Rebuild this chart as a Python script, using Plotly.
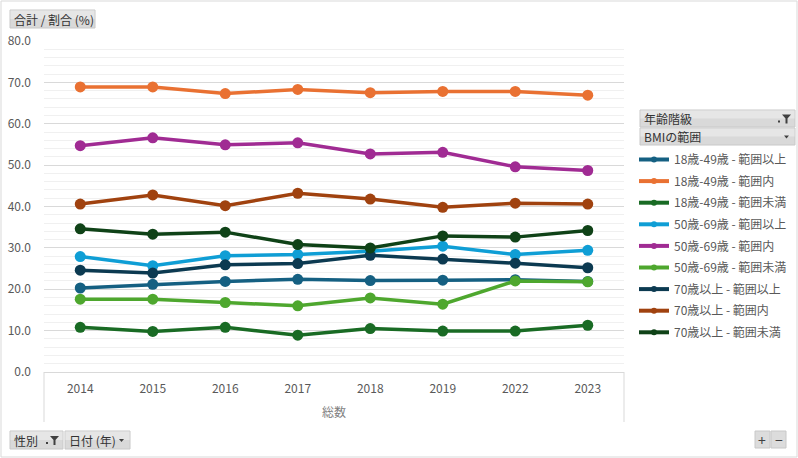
import plotly.graph_objects as go

years = ["2014", "2015", "2016", "2017", "2018", "2019", "2022", "2023"]

series_names = [
    "18歳-49歳 - 範囲以上",
    "18歳-49歳 - 範囲内",
    "18歳-49歳 - 範囲未満",
    "50歳-69歳 - 範囲以上",
    "50歳-69歳 - 範囲内",
    "50歳-69歳 - 範囲未満",
    "70歳以上 - 範囲以上",
    "70歳以上 - 範囲内",
    "70歳以上 - 範囲未満",
]

age18_above = [20.3, 21.2, 21.9, 22.4, 22.1, 22.2, 22.3, 21.9]
age18_within = [68.9, 68.9, 67.3, 68.3, 67.5, 67.8, 67.8, 66.9]
age18_below = [10.8, 9.8, 10.8, 8.9, 10.5, 9.9, 9.9, 11.3]
age50_above = [27.9, 25.7, 28.1, 28.4, 29.2, 30.4, 28.4, 29.4]
age50_within = [54.7, 56.6, 54.9, 55.4, 52.7, 53.1, 49.6, 48.7]
age50_below = [17.6, 17.6, 16.8, 16.0, 17.9, 16.4, 22.0, 21.8]
age70_above = [24.6, 23.9, 25.9, 26.2, 28.2, 27.3, 26.3, 25.2]
age70_within = [40.6, 42.8, 40.2, 43.2, 41.8, 39.8, 40.8, 40.6]
age70_below = [34.6, 33.3, 33.8, 30.8, 30.0, 32.9, 32.6, 34.2]

values = [age18_above, age18_within, age18_below,
          age50_above, age50_within, age50_below,
          age70_above, age70_within, age70_below]

colors = ["#156082", "#E97132", "#196B24", "#0F9ED5", "#A02B93",
          "#4EA72E", "#0C3A51", "#A0420F", "#0F4217"]

W, H = 798, 458
PL, PR, PT, PB = 44, 624, 41, 372
FONT = "Noto Sans CJK JP, Noto Sans, sans-serif"
GRAY_TXT = "#595959"


def px(x):
    return (x - PL) / (PR - PL)


def py(y):
    return (PB - y) / (PB - PT)


fig = go.Figure()

for name, vals, col in zip(series_names, values, colors):
    fig.add_trace(go.Scatter(
        x=years, y=vals, name=name, mode="lines+markers",
        line=dict(color=col, width=3.5),
        marker=dict(color=col, size=11),
        showlegend=False, legendgroup=name,
        hovertemplate="%{x}: %{y:.1f}<extra>" + name + "</extra>",
    ))

# legend-only entries (smaller markers like the original)
for name, col in zip(series_names, colors):
    fig.add_trace(go.Scatter(
        x=[None], y=[None], name=name, mode="lines+markers",
        line=dict(color=col, width=4),
        marker=dict(color=col, size=6),
        showlegend=True, legendgroup=name,
    ))

shapes = []
annotations = []

# outer border
shapes.append(dict(type="rect", xref="paper", yref="paper",
                   x0=px(1), x1=px(797), y0=py(457), y1=py(1),
                   line=dict(color="#d9d9d9", width=1), layer="below"))

# category axis box lines
for xx in (PL, PR):
    shapes.append(dict(type="line", xref="paper", yref="paper",
                       x0=px(xx), x1=px(xx), y0=py(PB), y1=py(422),
                       line=dict(color="#d9d9d9", width=1)))


def button(x0, y0, x1, y1, text, icon=None):
    shapes.append(dict(type="rect", xref="paper", yref="paper",
                       x0=px(x0), x1=px(x1), y0=py(y1), y1=py(y0),
                       fillcolor="#d9d9d9", line=dict(color="#c8c8c8", width=1),
                       layer="above"))
    shapes.append(dict(type="rect", xref="paper", yref="paper",
                       x0=px(x0 + 0.5), x1=px(x1 - 0.5), y0=py((y0 + y1) / 2),
                       y1=py(y0 + 0.5),
                       fillcolor="#e6e6e6", line=dict(width=0), layer="above"))
    annotations.append(dict(xref="paper", yref="paper", x=px(x0 + 2),
                            y=py((y0 + y1) / 2), text=text, showarrow=False,
                            xanchor="left", yanchor="middle",
                            font=dict(family=FONT, size=12, color="#333333")))
    cy = (y0 + y1) / 2
    if icon == "filter":
        fx = x1 - 13
        path = "M {} {} L {} {} L {} {} L {} {} L {} {} L {} {} Z".format(
            px(fx), py(cy - 4), px(fx + 9), py(cy - 4), px(fx + 5.5), py(cy),
            px(fx + 5.5), py(cy + 5), px(fx + 3.5), py(cy + 5), px(fx + 3.5), py(cy))
        shapes.append(dict(type="path", xref="paper", yref="paper", path=path,
                           fillcolor="#404040", line=dict(width=0), layer="above"))
        shapes.append(dict(type="rect", xref="paper", yref="paper",
                           x0=px(fx - 4), x1=px(fx - 2), y0=py(cy + 4), y1=py(cy + 2),
                           fillcolor="#404040", line=dict(width=0), layer="above"))
    elif icon == "arrow":
        ax = x1 - 11
        path = "M {} {} L {} {} L {} {} Z".format(
            px(ax), py(cy - 1), px(ax + 5), py(cy - 1), px(ax + 2.5), py(cy + 2))
        shapes.append(dict(type="path", xref="paper", yref="paper", path=path,
                           fillcolor="#404040", line=dict(width=0), layer="above"))


button(10, 10, 95, 28, "合計 / 割合 (%)")
button(640, 110, 795, 127, "年齢階級", "filter")
button(640, 128, 795, 145, "BMIの範囲", "arrow")
button(10, 431, 63, 449, "性別", "filter")
button(65, 431, 130, 449, "日付 (年)", "arrow")

# zoom buttons
for x0, x1, sym in ((755, 770, "+"), (771, 786, "−")):
    shapes.append(dict(type="rect", xref="paper", yref="paper",
                       x0=px(x0), x1=px(x1), y0=py(448), y1=py(431),
                       fillcolor="#dcdcdc", line=dict(color="#c8c8c8", width=1),
                       layer="above"))
    annotations.append(dict(xref="paper", yref="paper", x=px((x0 + x1) / 2),
                            y=py(439.5), text=sym, showarrow=False,
                            xanchor="center", yanchor="middle",
                            font=dict(family=FONT, size=14, color="#404040")))

# second level category label
annotations.append(dict(xref="paper", yref="paper", x=0.5, y=py(411),
                        text="総数", showarrow=False, xanchor="center",
                        yanchor="middle",
                        font=dict(family=FONT, size=12, color="#7f7f7f")))

fig.update_layout(
    width=W, height=H, autosize=False,
    margin=dict(l=PL, r=W - PR, t=PT, b=H - PB, pad=0, autoexpand=False),
    paper_bgcolor="white", plot_bgcolor="white",
    font=dict(family=FONT, size=12, color=GRAY_TXT),
    shapes=shapes, annotations=annotations,
    legend=dict(x=px(634), y=py(145), xanchor="left", yanchor="top",
                font=dict(family=FONT, size=12, color=GRAY_TXT),
                itemwidth=30, tracegroupgap=2.6, bgcolor="rgba(0,0,0,0)",
                borderwidth=0),
    xaxis=dict(type="category", categoryorder="array", categoryarray=years,
               range=[-0.5, 7.5], showgrid=False, zeroline=False,
               showline=True, linecolor="#d9d9d9", linewidth=1,
               ticks="", ticklabelstandoff=6,
               tickfont=dict(family=FONT, size=12, color=GRAY_TXT),
               fixedrange=True),
    yaxis=dict(range=[0, 80], dtick=10, tick0=0, tickformat=".1f",
               showgrid=True, gridcolor="#d9d9d9", gridwidth=1,
               zeroline=False, showline=False, ticks="",
               ticklabelstandoff=12,
               tickfont=dict(family=FONT, size=12, color=GRAY_TXT),
               minor=dict(dtick=2, tick0=0, showgrid=True,
                          gridcolor="#f0f0f0", gridwidth=1),
               fixedrange=True),
)

fig.write_html(
    "out.html",
    config={"displayModeBar": False, "responsive": False},
    post_script=("document.documentElement.style.overflow='hidden';"
                 "document.body.style.margin='0';"
                 "document.body.style.padding='0';"),
)
